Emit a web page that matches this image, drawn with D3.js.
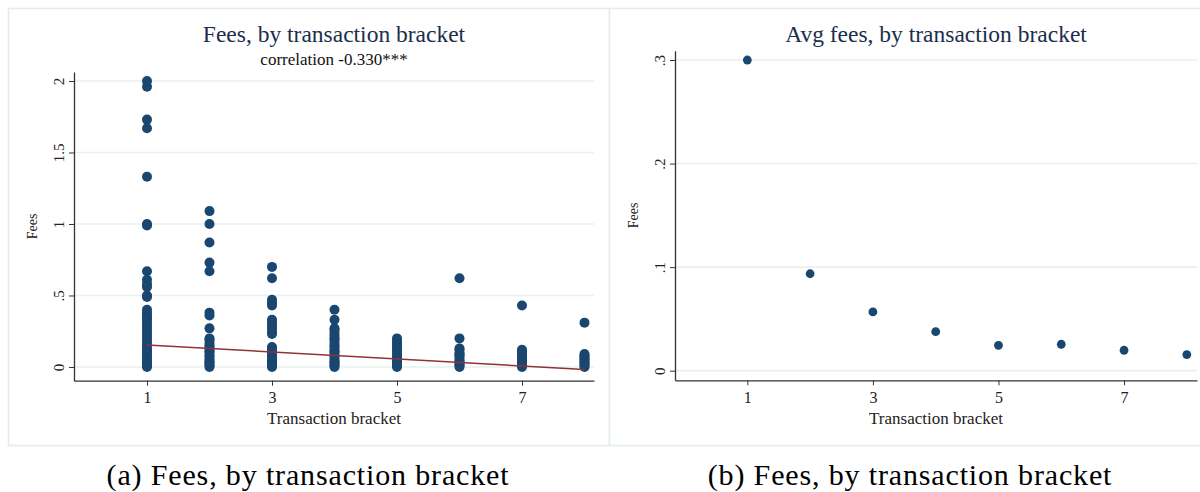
<!DOCTYPE html>
<html>
<head>
<meta charset="utf-8">
<script src="https://cdn.jsdelivr.net/npm/d3@7"></script>
<style>
  html, body { margin: 0; padding: 0; background: #fff; }
  svg text { font-family: "Liberation Serif", "Times New Roman", serif; }
</style>
</head>
<body>
<svg id="chart" width="1200" height="492"></svg>
<script>
// ---- Data ----------------------------------------------------------------
const brackets = [1, 2, 3, 4, 5, 6, 7, 8];

// Individual fee observations, one array per transaction bracket
const feesBracket1 = [2.0, 1.96, 1.73, 1.67, 1.33, 1.0, 0.99, 0.67, 0.61, 0.58, 0.56, 0.5, 0.49,
  0.40, 0.38, 0.36, 0.34, 0.33, 0.31, 0.29, 0.27, 0.25, 0.23, 0.21, 0.19, 0.17, 0.15, 0.13,
  0.11, 0.10, 0.08, 0.07, 0.05, 0.04, 0.03, 0.02, 0.01, 0.0];
const feesBracket2 = [1.09, 1.0, 0.87, 0.73, 0.67, 0.38, 0.36, 0.27,
  0.20, 0.19, 0.17, 0.15, 0.14, 0.12, 0.11, 0.10, 0.08, 0.07, 0.05, 0.04, 0.03, 0.02, 0.01, 0.0];
const feesBracket3 = [0.70, 0.62, 0.47, 0.45, 0.43, 0.33, 0.31, 0.29, 0.27, 0.25, 0.23,
  0.14, 0.13, 0.11, 0.10, 0.08, 0.07, 0.05, 0.04, 0.03, 0.02, 0.01, 0.0];
const feesBracket4 = [0.40, 0.33, 0.27, 0.26, 0.24, 0.22, 0.20, 0.19, 0.17, 0.15, 0.14,
  0.12, 0.11, 0.10, 0.08, 0.07, 0.05, 0.04, 0.03, 0.02, 0.01, 0.0];
const feesBracket5 = [0.20, 0.18, 0.17, 0.15, 0.13, 0.12, 0.10, 0.08, 0.07, 0.05, 0.04,
  0.03, 0.02, 0.01, 0.0];
const feesBracket6 = [0.62, 0.20, 0.13, 0.12, 0.10, 0.09, 0.08, 0.07, 0.05, 0.04, 0.03,
  0.02, 0.01, 0.0];
const feesBracket7 = [0.43, 0.12, 0.11, 0.10, 0.08, 0.07, 0.05, 0.04, 0.03, 0.02, 0.01, 0.0];
const feesBracket8 = [0.31, 0.09, 0.08, 0.07, 0.06, 0.05, 0.04, 0.03, 0.02, 0.01, 0.0];

// Linear fit endpoints (fees on bracket)
const fitBrackets = [1, 8];
const fitFees = [0.154, -0.018];

// Mean fee per bracket
const avgFees = [0.300, 0.0936, 0.0567, 0.0377, 0.0245, 0.0255, 0.0197, 0.0155];

// Axis ticks
const xTicks = [1, 3, 5, 7];
const yTicksLeft = [0, 0.5, 1, 1.5, 2];
const yTickLabelsLeft = ["0", ".5", "1", "1.5", "2"];
const yTicksRight = [0, 0.1, 0.2, 0.3];
const yTickLabelsRight = ["0", ".1", ".2", ".3"];

// ---- Styling ---------------------------------------------------------------
const navy = "#1a476f";
const maroon = "#8f323a";
const gridColor = "#e8f0f1";
const frameColor = "#e2ecec";
const axisColor = "#333";
const titleColor = "#1c2e4c";

const svg = d3.select("#chart");

const feeSets = [feesBracket1, feesBracket2, feesBracket3, feesBracket4,
                 feesBracket5, feesBracket6, feesBracket7, feesBracket8];
const scatter = [];
feeSets.forEach((arr, i) => arr.forEach(v => scatter.push({ x: brackets[i], y: v })));

// Draw one Stata-style panel
function panel(cfg) {
  const g = svg.append("g");

  // frame
  g.append("rect")
    .attr("x", cfg.frame[0] + 0.5).attr("y", 8.5)
    .attr("width", cfg.frame[1] - cfg.frame[0]).attr("height", 437)
    .attr("fill", "#fff").attr("stroke", frameColor).attr("stroke-width", 1.5);

  const x = d3.scaleLinear().domain(cfg.xDomain).range([cfg.left, cfg.right]);
  const y = d3.scaleLinear().domain(cfg.yDomain).range([cfg.bottom, cfg.top]);

  // horizontal grid
  g.append("g").selectAll("line").data(cfg.yTicks).join("line")
    .attr("x1", cfg.left).attr("x2", cfg.right)
    .attr("y1", d => y(d)).attr("y2", d => y(d))
    .attr("stroke", gridColor).attr("stroke-width", 1.6);

  // y axis
  const ya = g.append("g").attr("transform", `translate(${cfg.left},0)`)
    .call(d3.axisLeft(y).tickValues(cfg.yTicks).tickSize(5).tickSizeOuter(0)
      .tickFormat((d, i) => cfg.yLabels[i]));
  ya.select(".domain").attr("stroke", axisColor).attr("stroke-width", 1.3);
  ya.selectAll(".tick line").attr("stroke", axisColor).attr("stroke-width", 1);
  ya.selectAll(".tick text")
    .attr("transform", "rotate(-90)")
    .attr("x", 0).attr("y", -10).attr("dy", 0)
    .attr("text-anchor", "middle")
    .attr("font-size", 15).attr("fill", "#222");

  // x axis
  const xa = g.append("g").attr("transform", `translate(0,${cfg.bottom})`)
    .call(d3.axisBottom(x).tickValues(xTicks).tickSize(5).tickSizeOuter(0)
      .tickFormat(d3.format("d")));
  xa.select(".domain").attr("stroke", axisColor).attr("stroke-width", 1.3);
  xa.selectAll(".tick line").attr("stroke", axisColor).attr("stroke-width", 1);
  xa.selectAll(".tick text").attr("y", 8).attr("dy", "0.9em")
    .attr("font-size", 16).attr("fill", "#222");

  // axis titles
  g.append("text")
    .attr("transform", `translate(${cfg.left - 37},${(cfg.top + cfg.bottom) / 2}) rotate(-90)`)
    .attr("text-anchor", "middle").attr("font-size", 14).attr("fill", "#222")
    .text("Fees");
  g.append("text")
    .attr("x", cfg.titleX).attr("y", 424)
    .attr("text-anchor", "middle").attr("font-size", 17).attr("fill", "#222")
    .text("Transaction bracket");

  // titles
  g.append("text")
    .attr("x", cfg.titleX).attr("y", 42)
    .attr("text-anchor", "middle").attr("font-size", 23.5).attr("fill", titleColor)
    .text(cfg.title);
  if (cfg.subtitle) {
    g.append("text")
      .attr("x", cfg.titleX).attr("y", 65)
      .attr("text-anchor", "middle").attr("font-size", 17).attr("fill", "#111")
      .text(cfg.subtitle);
  }
  return { g, x, y };
}

// (a) scatter with linear fit
const A = panel({
  frame: [8, 609], left: 74, right: 594, top: 72, bottom: 380.7,
  xDomain: [-0.168, 8.152], yDomain: [-0.096, 2.063],
  yTicks: yTicksLeft, yLabels: yTickLabelsLeft,
  titleX: 334, title: "Fees, by transaction bracket",
  subtitle: "correlation -0.330***"
});
A.g.append("g").selectAll("circle").data(scatter).join("circle")
  .attr("cx", d => A.x(d.x)).attr("cy", d => A.y(d.y)).attr("r", 5)
  .attr("fill", navy);
A.g.append("path")
  .datum(fitBrackets.map((b, i) => ({ x: b, y: fitFees[i] })))
  .attr("d", d3.line().x(d => A.x(d.x)).y(d => A.y(d.y)))
  .attr("fill", "none").attr("stroke", maroon).attr("stroke-width", 1.5);

// (b) average fee per bracket
const B = panel({
  frame: [609, 1206], left: 675, right: 1197, top: 50.7, bottom: 380.3,
  xDomain: [-0.152, 8.162], yDomain: [-0.0093, 0.309],
  yTicks: yTicksRight, yLabels: yTickLabelsRight,
  titleX: 936, title: "Avg fees, by transaction bracket"
});
B.g.append("g").selectAll("circle").data(avgFees).join("circle")
  .attr("cx", (d, i) => B.x(brackets[i])).attr("cy", d => B.y(d)).attr("r", 4.4)
  .attr("fill", navy);

// sub-figure captions
const captions = svg.append("g")
  .attr("font-size", 30).attr("letter-spacing", "0.85px").attr("fill", "#000")
  .attr("text-anchor", "middle");
captions.append("text").attr("x", 308).attr("y", 485).text("(a) Fees, by transaction bracket");
captions.append("text").attr("x", 910).attr("y", 485).text("(b) Fees, by transaction bracket");
</script>
</body>
</html>
